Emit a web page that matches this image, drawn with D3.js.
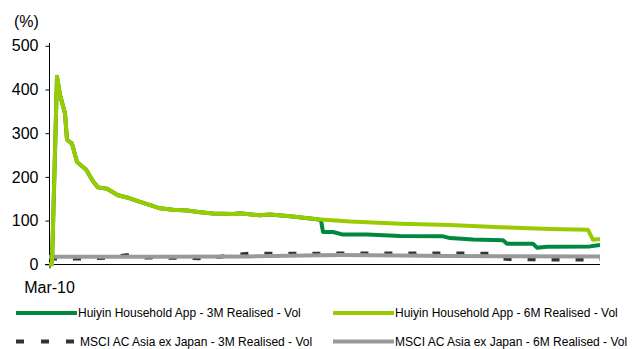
<!DOCTYPE html>
<html>
<head>
<meta charset="utf-8">
<script src="https://cdn.jsdelivr.net/npm/d3@7"></script>
<style>
  html, body { margin: 0; padding: 0; background: #fff; }
  svg { display: block; font-family: "Liberation Sans", Arial, sans-serif; }
</style>
</head>
<body>
<svg id="chart" width="635" height="349"></svg>
<script>
// Realised volatility (%), each series sampled on days counted from 1 Mar 2010
const startDate = new Date(2010, 2, 1);

const huiyin6mDays = [0, 3, 8, 11, 16, 18, 23, 28, 37, 44, 49, 58, 69, 78, 88, 99, 111, 124, 138, 151, 164, 184, 191, 211, 221, 241, 268, 301, 351, 401, 451, 501, 539, 544, 551];
const huiyin6mVol  = [0, 0, 429, 388, 345, 285, 276, 234, 217, 190, 176, 173, 158, 153, 145, 137, 128, 125, 123, 119, 116, 115, 117, 112, 114, 110, 103, 98, 93, 90, 85, 81, 79, 56, 58];

const huiyin3mDays = [0, 3, 8, 11, 16, 18, 23, 28, 37, 44, 49, 58, 69, 78, 88, 99, 111, 124, 138, 151, 164, 184, 191, 211, 221, 241, 268, 272, 274, 284, 294, 318, 351, 394, 401, 424, 454, 458, 484, 488, 498, 541, 551];
const huiyin3mVol  = [0, 0, 429, 388, 345, 285, 276, 234, 217, 190, 176, 173, 158, 153, 145, 137, 128, 125, 123, 119, 116, 115, 117, 112, 114, 110, 103, 101, 74, 74, 68, 68, 65, 64, 60, 57, 55, 47, 47, 38, 40, 41, 44];

const msci3mDays = [0, 30, 60, 78, 90, 120, 150, 170, 185, 200, 250, 300, 350, 400, 440, 452, 460, 500, 540, 551];
const msci3mVol  = [13, 13, 15, 21, 16, 15, 14, 17, 21, 24, 24, 25, 25, 25, 24, 14, 12, 11, 11, 12];

const msci6mDays = [0, 100, 200, 291, 351, 401, 451, 551];
const msci6mVol  = [17, 17, 18, 21, 20, 19, 18.5, 18];

const yTicks = [0, 100, 200, 300, 400, 500];
const xTickDates = [startDate];
const yUnitLabel = "(%)";

const seriesNames = [
  "Huiyin Household App - 3M Realised - Vol",
  "Huiyin Household App - 6M Realised - Vol",
  "MSCI AC Asia ex Japan - 3M Realised - Vol",
  "MSCI AC Asia ex Japan - 6M Realised - Vol"
];

const colDarkGreen = "#00883f";
const colLightGreen = "#99cc00";
const colGrey = "#999999";
const colDash = "#333333";

const svg = d3.select("#chart");

const x = d3.scaleTime()
  .domain([startDate, d3.timeDay.offset(startDate, 551)])
  .range([49, 600]);
const y = d3.scaleLinear().domain([0, 500]).range([264.3, 45.8]);

const toPoints = (days, vals) => days.map((d, i) => ({ date: d3.timeDay.offset(startDate, d), v: vals[i] }));

const line = d3.line().x(d => x(d.date)).y(d => y(d.v));

// Axes
const yAxis = d3.axisLeft(y).tickValues(yTicks).tickSize(4).tickSizeOuter(0).tickPadding(7);
const gy = svg.append("g").attr("transform", "translate(49.5,0)").call(yAxis);
gy.select(".domain").remove();
gy.append("line").attr("x1", 0).attr("x2", 0).attr("y1", 43).attr("y2", 264.5).attr("stroke", "#000");
gy.selectAll(".tick line").attr("stroke", "#000");
gy.selectAll(".tick text").attr("fill", "#000").style("font-size", "16px").style("font-family", "'Liberation Sans', Arial, sans-serif");

const xAxis = d3.axisBottom(x).tickValues(xTickDates).tickFormat(d3.timeFormat("%b-%y")).tickSize(4).tickSizeOuter(0).tickPadding(13);
const gx = svg.append("g").attr("transform", "translate(0,264.5)").call(xAxis);
gx.select(".domain").remove();
gx.append("line").attr("x1", 45).attr("x2", 600).attr("y1", 0).attr("y2", 0).attr("stroke", "#000");
gx.selectAll(".tick line").attr("stroke", "#000").attr("transform", "translate(0.5,0)");
gx.selectAll(".tick text").attr("fill", "#000").style("font-size", "16px").style("font-family", "'Liberation Sans', Arial, sans-serif");

svg.append("text").attr("x", 14).attr("y", 27).text(yUnitLabel)
  .style("font-size", "16px").attr("fill", "#000");

// Series lines
const series = [
  { pts: toPoints(msci3mDays, msci3mVol), color: colDash, dash: "8,16" },
  { pts: toPoints(msci6mDays, msci6mVol), color: colGrey, dash: null },
  { pts: toPoints(huiyin3mDays, huiyin3mVol), color: colDarkGreen, dash: null },
  { pts: toPoints(huiyin6mDays, huiyin6mVol), color: colLightGreen, dash: null }
];

series.forEach(s => {
  svg.append("path")
    .datum(s.pts)
    .attr("d", line)
    .attr("fill", "none")
    .attr("stroke", s.color)
    .attr("stroke-width", 4)
    .attr("stroke-linejoin", "round")
    .attr("stroke-dasharray", s.dash);
});

// Legend
const legendItems = [
  { name: seriesNames[0], color: colDarkGreen, dash: null, lx: 16, ly: 313 },
  { name: seriesNames[1], color: colLightGreen, dash: null, lx: 333, ly: 313 },
  { name: seriesNames[2], color: colDash, dash: "8,17", lx: 16, ly: 341.5 },
  { name: seriesNames[3], color: colGrey, dash: null, lx: 333, ly: 341.5 }
];

const lg = svg.append("g");
legendItems.forEach(it => {
  lg.append("line")
    .attr("x1", it.lx).attr("x2", it.lx + 61)
    .attr("y1", it.ly).attr("y2", it.ly)
    .attr("stroke", it.color).attr("stroke-width", 4)
    .attr("stroke-dasharray", it.dash);
  lg.append("text")
    .attr("x", it.lx + (it.dash ? 64 : 62))
    .attr("y", it.ly + 4.3)
    .text(it.name)
    .style("font-size", "12px")
    .attr("fill", "#000");
});
</script>
</body>
</html>
